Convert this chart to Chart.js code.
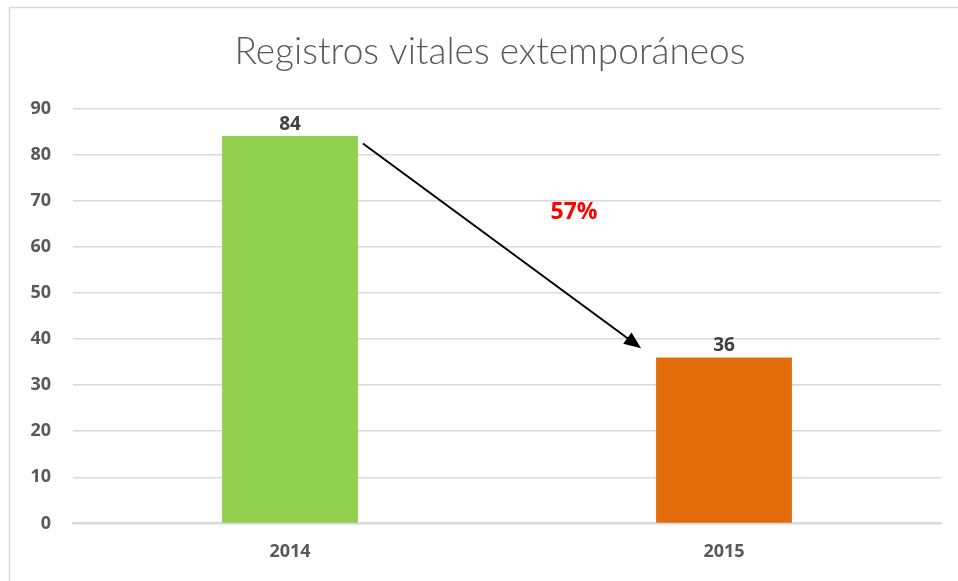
<!DOCTYPE html>
<html>
<head>
<meta charset="utf-8">
<script src="https://cdn.jsdelivr.net/npm/chart.js@4"></script>
<style>
  html, body { margin: 0; padding: 0; background: #fff; }
  #wrap { width: 958px; height: 581px; position: relative; }
</style>
</head>
<body>
<div id="wrap"><canvas id="registrosChart" width="958" height="581"></canvas></div>
<script>
// Datos del gráfico
const categorias = ['2014', '2015'];
const valores = [84, 36];
const coloresBarras = ['#92D050', '#E36C0A'];
const ticksY = [0, 10, 20, 30, 40, 50, 60, 70, 80, 90];

// porcentaje de disminución entre los dos años
const disminucion = Math.round((valores[0] - valores[1]) / valores[0] * 100);

// Marco, etiquetas de datos, flecha y porcentaje
const extrasPlugin = {
  id: 'extras',
  beforeDraw(chart) {
    const c = chart.ctx;
    c.save();
    c.strokeStyle = '#d9d9d9';
    c.lineWidth = 1.5;
    c.beginPath();
    c.moveTo(9.5, 581);
    c.lineTo(9.5, 7.5);
    c.lineTo(958, 7.5);
    c.stroke();
    c.restore();
  },
  afterDatasetsDraw(chart) {
    const c = chart.ctx;
    const meta = chart.getDatasetMeta(0);
    const y = chart.scales.y;
    c.save();
    // etiquetas de valores
    c.font = 'bold 19px "Open Sans", sans-serif';
    c.fillStyle = '#404040';
    c.textAlign = 'center';
    c.textBaseline = 'bottom';
    meta.data.forEach((bar, i) => {
      c.fillText(valores[i], bar.x, bar.y - 2);
    });
    // flecha del primer al segundo año
    const b1 = meta.data[0], b2 = meta.data[1];
    const x1 = b1.x + b1.width / 2 + 5;
    const y1 = y.getPixelForValue(valores[0] - 1.6);
    const x2 = b2.x - b2.width / 2 - 15;
    const y2 = y.getPixelForValue(valores[1] + 2);
    const ang = Math.atan2(y2 - y1, x2 - x1);
    c.strokeStyle = '#000';
    c.lineWidth = 2;
    c.beginPath();
    c.moveTo(x1, y1);
    c.lineTo(x2 - 10 * Math.cos(ang), y2 - 10 * Math.sin(ang));
    c.stroke();
    c.fillStyle = '#000';
    c.beginPath();
    c.moveTo(x2, y2);
    c.lineTo(x2 - 17 * Math.cos(ang) + 7 * Math.sin(ang), y2 - 17 * Math.sin(ang) - 7 * Math.cos(ang));
    c.lineTo(x2 - 17 * Math.cos(ang) - 7 * Math.sin(ang), y2 - 17 * Math.sin(ang) + 7 * Math.cos(ang));
    c.closePath();
    c.fill();
    // porcentaje
    c.font = 'bold 23px "Open Sans", sans-serif';
    c.fillStyle = '#FF0000';
    c.textBaseline = 'middle';
    c.fillText(disminucion + '%', (x1 + x2) / 2 + 72, y.getPixelForValue(67.4));
    c.restore();
  }
};

const ctx = document.getElementById('registrosChart').getContext('2d');
const registrosChart = new Chart(ctx, {
  type: 'bar',
  data: {
    labels: categorias,
    datasets: [{
      label: 'Registros',
      data: valores,
      backgroundColor: coloresBarras,
      categoryPercentage: 1,
      barPercentage: 0.313
    }]
  },
  options: {
    responsive: false,
    animation: false,
    layout: { padding: { left: 22, right: 0, top: 30, bottom: 8 } },
    scales: {
      y: {
        min: 0,
        max: 90,
        afterBuildTicks: (axis) => { axis.ticks = ticksY.map(v => ({ value: v })); },
        afterFit: (axis) => { axis.width = 51; },
        border: { display: false },
        grid: { color: '#d9d9d9', lineWidth: 1.5, drawTicks: false },
        ticks: {
          color: '#595959',
          padding: 22,
          font: { family: '"Open Sans", sans-serif', size: 18, weight: 'bold' }
        }
      },
      // eje vacío a la derecha para dejar margen
      margen: {
        type: 'linear',
        position: 'right',
        afterFit: (axis) => { axis.width = 17; },
        border: { display: false },
        grid: { display: false },
        ticks: { display: false }
      },
      x: {
        border: { color: '#d9d9d9', width: 2 },
        grid: { display: false },
        ticks: {
          color: '#595959',
          padding: 10,
          font: { family: '"Open Sans", sans-serif', size: 18, weight: 'bold' }
        }
      }
    },
    plugins: {
      legend: { display: false },
      tooltip: { enabled: false },
      title: {
        display: true,
        text: 'Registros vitales extemporáneos',
        color: '#595959',
        padding: { top: 0, bottom: 34 },
        font: { family: 'Lato, sans-serif', size: 37, weight: '300' }
      }
    }
  },
  plugins: [extrasPlugin]
});
</script>
</body>
</html>
